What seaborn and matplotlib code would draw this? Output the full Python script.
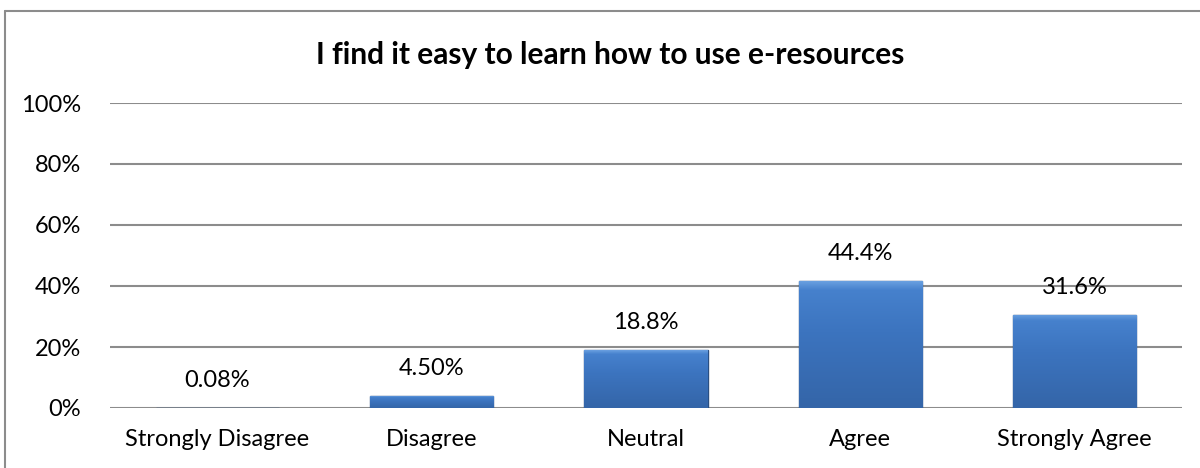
import matplotlib
matplotlib.use("Agg")
import matplotlib.pyplot as plt
import seaborn as sns
import numpy as np
import pandas as pd
from matplotlib.lines import Line2D
from matplotlib.colors import LinearSegmentedColormap

categories = ["Strongly Disagree", "Disagree", "Neutral", "Agree", "Strongly Agree"]
values = [0.08, 3.9, 19.0, 41.6, 30.5]
value_labels = ["0.08%", "4.50%", "18.8%", "44.4%", "31.6%"]
y_ticks = [0, 20, 40, 60, 80, 100]
y_tick_labels = ["0%", "20%", "40%", "60%", "80%", "100%"]
title = "I find it easy to learn how to use e-resources"

sns.set_theme(style="white")
plt.rcParams["font.family"] = ["Lato", "DejaVu Sans"]

df = pd.DataFrame({"category": categories, "value": values})

fig = plt.figure(figsize=(12, 4.68), dpi=100)
ax = fig.add_axes([110 / 1200, 60 / 468, 1072 / 1200, 305 / 468])

sns.barplot(data=df, x="category", y="value", ax=ax, color="#3b72bd",
            width=0.575, edgecolor="#2a4f82", linewidth=1.0, saturation=1)

ax.set_ylim(0, 100)
ax.set_xlim(-0.5, len(categories) - 0.5)
ax.set_yticks(y_ticks)
ax.set_yticklabels(y_tick_labels)
ax.yaxis.grid(True, color="#8c8c8c", linewidth=1.5)
ax.set_axisbelow(True)
for s in ax.spines.values():
    s.set_visible(False)
ax.set_xlabel("")
ax.set_ylabel("")
ax.tick_params(axis="y", length=0, labelsize=17, colors="#000000", pad=21)
ax.tick_params(axis="x", length=0, labelsize=17, colors="#000000", pad=15)

# gradient shading inside bars, derived from bar geometry
grad = np.linspace(0, 1, 256).reshape(-1, 1)
cmap = LinearSegmentedColormap.from_list(
    "b", [(0.0, "#3465a8"), (0.6, "#3c74bf"), (0.93, "#4681cd"), (1.0, "#6aa0e0")])
for p, lab in zip(ax.patches, value_labels):
    x0, y0 = p.get_x(), p.get_y()
    w, h = p.get_width(), p.get_height()
    im = ax.imshow(grad, extent=[x0, x0 + w, y0, y0 + h], origin="lower",
                   aspect="auto", cmap=cmap, zorder=p.get_zorder() + 0.1)
    im.set_clip_path(p)
    ax.text(x0 + w / 2, y0 + h + 5.5, lab, ha="center", va="bottom",
            fontsize=17, color="#000000")
ax.set_xlim(-0.5, len(categories) - 0.5)
ax.set_ylim(0, 100)

fig.text(610 / 1200, 1 - 55 / 468, title, ha="center", va="center",
         fontsize=21.5, fontweight="bold", color="#000000")

fig.add_artist(Line2D([4.5 / 1200, 4.5 / 1200], [0, 1 - 11 / 468], color="#8c8c8c", linewidth=1.5))
fig.add_artist(Line2D([4.5 / 1200, 1], [1 - 11 / 468, 1 - 11 / 468], color="#8c8c8c", linewidth=1.5))

fig.savefig("out.png", dpi=100, facecolor="white")
